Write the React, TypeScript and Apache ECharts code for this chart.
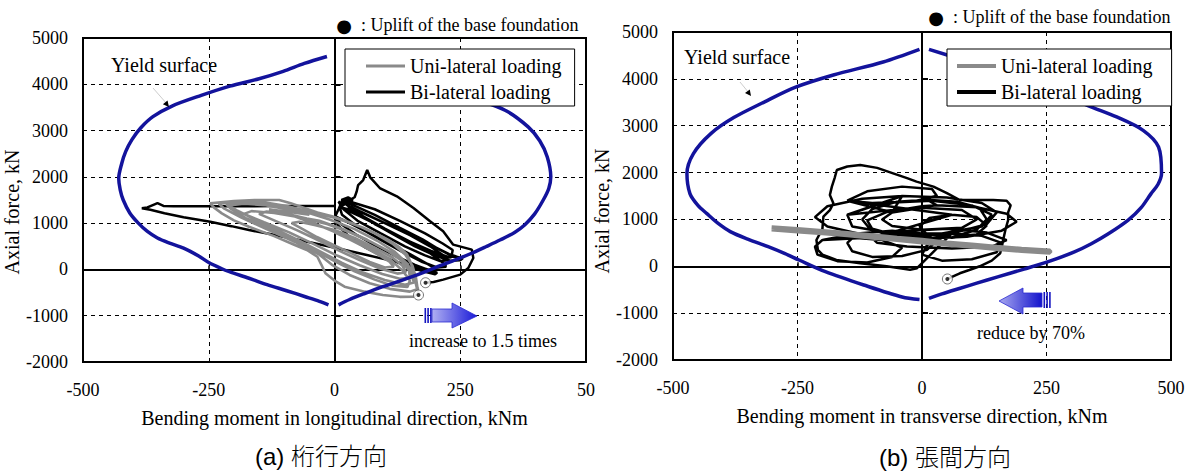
import React, { useEffect, useRef } from 'react';
import * as echarts from 'echarts';

const FONT = "'Liberation Serif', 'Times New Roman', serif";
const BLUE = '#13139c';
const GRAY = '#8a8a8a';

const X_NAME_LONG = 'Bending moment in longitudinal direction, kNm';
const X_NAME_TRANS = 'Bending moment in transverse direction, kNm';
const Y_NAME = 'Axial force, kN';
const LEGEND_NAMES = ['Uni-lateral loading', 'Bi-lateral loading'];
const CAPTIONS = ['(a) 桁行方向', '(b) 張間方向'];
const NOTE_TEXT = ': Uplift of the base foundation';
const ARROW_TEXTS = ['increase to 1.5 times', 'reduce by 70%'];

// ---- (a) longitudinal direction ----
const LONG_YIELD_NEG = [
  [-15, 4600], [-60, 4450], [-102, 4280], [-150, 4120], [-208, 3960], [-265, 3760], [-323, 3530],
  [-361, 3300], [-385, 3060], [-403, 2800], [-415, 2550], [-423, 2290], [-429, 1970], [-426, 1720],
  [-420, 1500], [-407, 1220], [-390, 1000], [-372, 820], [-352, 680], [-328, 570], [-300, 460],
  [-270, 290], [-250, 150], [-225, 20], [-209, -49], [-170, -190], [-134, -330], [-95, -460],
  [-58, -590], [-30, -690], [-12, -765],
];
const LONG_YIELD_POS = [
  [23, 4600], [80, 4430], [150, 4200], [210, 3990], [270, 3730], [339, 3440], [385, 3080],
  [408, 2780], [423, 2430], [430, 2000], [426, 1750], [415, 1500], [398, 1200], [378, 960],
  [358, 800], [330, 640], [301, 490], [275, 360], [248, 239], [210, 80], [172, -85], [135, -230],
  [96, -373], [60, -520], [30, -650], [8, -765],
];
const LONG_BI = [
  [0, 1372], [-50, 1370], [-120, 1368], [-190, 1367], [-260, 1366], [-320, 1364], [-340, 1372],
  [-352, 1432], [-360, 1396], [-372, 1340], [-383, 1322], [-366, 1290], [-338, 1212], [-300, 1128],
  [-247, 1030], [-205, 935], [-170, 851], [-128, 765], [-85, 668], [-40, 565], [10, 445], [60, 322],
  [110, 196], [150, 92], [182, 8], [204, -68], [200, -104], [176, -40],
  [140, 90], [100, 260], [62, 470], [28, 720], [6, 960], [4, 1138], [30, 1000], [70, 780], [110, 560],
  [150, 330], [180, 150], [197, 38], [200, -10], [188, -18], [160, 96], [120, 300], [80, 520],
  [42, 760], [12, 985], [2, 1160], [8, 1300], [14, 1452],
  [50, 1262], [100, 1002], [150, 742], [190, 500], [214, 322], [226, 198], [210, 180], [180, 302],
  [140, 500], [92, 778], [46, 1050], [18, 1298], [8, 1462], [20, 1405],
  [10, 1350], [50, 1150], [100, 880], [150, 600], [190, 350], [215, 150], [222, 60], [205, 40],
  [175, 160], [135, 380], [90, 650], [45, 930], [15, 1180], [10, 1350],
  [60, 1200], [110, 950], [160, 700], [200, 480], [228, 330], [242, 280], [226, 268], [192, 400],
  [150, 602], [100, 880], [56, 1150], [26, 1380], [14, 1500], [27, 1555], [37, 1498],
  [20, 1500], [35, 1400], [80, 1180], [130, 900], [175, 650], [210, 420], [232, 300], [255, 240],
  [250, 200], [230, 190], [200, 300], [160, 500], [110, 800], [65, 1080], [30, 1320], [20, 1500],
  [80, 1300], [130, 1050], [180, 780], [215, 560], [235, 420], [232, 255], [214, 262], [180, 420],
  [130, 700], [80, 980], [42, 1250], [22, 1450], [40, 1560], [44, 1680], [47, 1823], [57, 1931],
  [65, 2147], [71, 1990], [90, 1759], [124, 1579], [157, 1327], [190, 1039], [216, 823], [236, 535],
  [273, 427], [276, 247], [266, 31], [250, -113], [216, -221], [197, -272], [181, -287],
];
const LONG_UNI = [
  [0, 800], [30, 650], [60, 480], [90, 300], [110, 160], [118, 60], [100, 40], [70, 160], [35, 340],
  [0, 520], [-35, 700], [-65, 880], [-85, 1000], [-70, 1030], [-40, 960],
  [0, 850], [40, 680], [80, 470], [115, 260], [135, 80], [142, -60], [125, -90], [90, 20], [50, 200],
  [10, 400], [-30, 620], [-75, 850], [-120, 1060], [-150, 1200], [-135, 1250], [-95, 1200], [-55, 1100],
  [-30, 1050], [20, 860], [65, 640], [105, 410], [132, 200], [148, -20], [150, -180], [130, -200],
  [95, -100], [50, 90], [5, 300], [-40, 540], [-90, 800], [-140, 1020], [-180, 1200], [-165, 1260],
  [-120, 1220], [-70, 1130],
  [-15, 980], [30, 800], [75, 580], [115, 350], [140, 150], [152, -100], [158, -280], [140, -330],
  [100, -230], [55, -60], [15, 140], [-25, 370], [-70, 620], [-115, 860], [-160, 1090], [-195, 1280],
  [-210, 1380], [-180, 1420], [-140, 1390], [-95, 1300], [-50, 1180],
  [-130, 1300], [-80, 1150], [-30, 950], [20, 720], [70, 470], [110, 220], [135, -20], [150, -240],
  [145, -380], [115, -350], [80, -220], [40, -40], [0, 180], [-40, 420], [-85, 660], [-130, 880],
  [-175, 1100], [-205, 1300], [-215, 1400], [-185, 1440], [-150, 1420],
  [-60, 1250], [-10, 1080], [40, 870], [85, 620], [120, 380], [145, 120], [158, -150], [166, -420],
  [150, -480], [110, -420], [70, -300], [30, -120], [-5, 100], [-30, 320], [-60, 500], [-100, 700],
  [-145, 920], [-185, 1120], [-220, 1320], [-230, 1420], [-190, 1460], [-140, 1450], [-95, 1370],
  [-2, 1120], [30, 1010], [57, 900], [85, 760], [110, 620], [130, 470], [144, 330], [152, 140],
  [157, -90], [163, -370], [167, -516], [157, -589], [130, -592], [96, -553], [60, -480], [20, -373],
  [0, -240], [-18, -84], [-26, 100], [-34, 274], [-55, 420], [-79, 527], [-120, 720], [-170, 922],
  [-200, 1060], [-224, 1212], [-240, 1340], [-247, 1428], [-200, 1480], [-159, 1500], [-110, 1500],
  [-87, 1430], [-60, 1330], [-34, 1230], [-5, 1150], [40, 980], [80, 780], [115, 560], [140, 330],
  [155, 80], [162, -180], [165, -400], [167, -553],
];
const LONG_UPLIFT = [[181, -287], [167, -553]];

// ---- (b) transverse direction ----
const TRANS_YIELD_NEG = [
  [-5, 4630], [-78, 4360], [-178, 4082], [-255, 3818], [-316, 3510], [-378, 3173], [-424, 2832],
  [-459, 2405], [-472, 1978], [-466, 1551], [-450, 1300], [-432, 1124], [-410, 920], [-385, 740],
  [-350, 580], [-309, 419], [-275, 270], [-247, 134], [-194, -115], [-117, -399], [-40, -655], [-5, -710],
];
const TRANS_YIELD_POS = [
  [14, 4630], [90, 4380], [180, 4080], [270, 3720], [337, 3415], [391, 3187], [444, 2902],
  [475, 2546], [481, 1978], [474, 1750], [460, 1551], [440, 1250], [414, 985], [375, 698],
  [340, 480], [306, 306], [252, 93], [205, -60], [152, -226], [110, -360], [75, -474], [40, -590], [14, -687],
];
const TRANS_UNI = [
  [-302, 830], [-250, 790], [-200, 750], [-150, 705], [-100, 655], [-50, 605], [0, 560], [50, 505],
  [100, 458], [150, 410], [200, 368], [257, 330], [257, 295], [200, 330], [150, 375], [100, 420],
  [50, 465], [0, 515], [-50, 565], [-100, 615], [-150, 665], [-200, 710], [-250, 750], [-302, 790],
];
const TRANS_BI = [
  [10, 1420], [70, 1380], [115, 1250], [130, 1000], [110, 780], [60, 620], [0, 580], [-60, 640],
  [-105, 800], [-120, 1000], [-100, 1220], [-50, 1380], [10, 1420],
  [30, 1300], [110, 1260], [170, 1120], [190, 950], [160, 760], [90, 630], [20, 600], [-50, 660],
  [-100, 800], [-110, 980], [-70, 1160], [0, 1280], [30, 1300],
  [-150, 1100], [-80, 1350], [20, 1400], [100, 1300], [140, 1100], [120, 850], [40, 700], [-60, 700],
  [-140, 850], [-150, 1100],
  [-40, 1500], [50, 1470], [120, 1350], [150, 1150], [130, 900], [60, 700], [-30, 620], [-120, 680],
  [-190, 850], [-215, 1050], [-190, 1280], [-120, 1440], [-40, 1500],
  [-60, 1150], [0, 1250], [80, 1200], [110, 1000], [80, 820], [0, 780], [-60, 860], [-80, 1000], [-60, 1150],
  [-150, 1400], [-110, 1600], [-40, 1700], [20, 1650], [30, 1500], [-20, 1380], [-100, 1350], [-150, 1400],
  [60, 1100], [110, 1050], [130, 870], [110, 680], [60, 610], [10, 680], [-5, 850], [15, 1030], [60, 1100],
  [-100, 600], [-40, 750], [50, 800], [130, 720], [170, 560], [140, 420], [60, 380], [-30, 420],
  [-90, 500], [-100, 600],
  [-130, 700], [-60, 760], [0, 700], [30, 550], [10, 350], [-40, 220], [-100, 200], [-140, 320],
  [-150, 500], [-130, 700],
  [-200, 560], [-150, 620], [-80, 560], [-40, 400], [-60, 200], [-110, 80], [-170, 110], [-210, 250],
  [-215, 420], [-200, 560],
  [60, 700], [120, 650], [160, 500], [150, 300], [100, 150], [40, 120], [0, 250], [10, 450], [60, 700],
  [-10, -40], [-24, -72], [-71, 0], [-124, 64], [-172, 134], [-200, 250], [-209, 348], [-212, 561],
  [-200, 800], [-198, 1059], [-185, 1200], [-178, 1344], [-185, 1520], [-181, 1700], [-175, 1900],
  [-171, 2055], [-150, 2130], [-124, 2161], [-90, 2100], [-58, 1984], [-30, 1880], [-11, 1806],
  [23, 1700], [50, 1560], [76, 1415], [110, 1415], [143, 1415], [170, 1400], [178, 1300], [173, 1150],
  [173, 988], [168, 800], [163, 561], [160, 400], [157, 277], [140, 120], [116, 0], [95, -80],
  [76, -149], [51, -271],
];
const TRANS_UPLIFT = [[51, -271]];

const X_MIN = -500, X_MAX = 500, X_STEP = 250;
const Y_MIN = -2000, Y_MAX = 5000, Y_STEP = 1000;

function axesFor(g: number, xName: string, cutLast: boolean, yPad: number) {
  const x = [
    {
      gridIndex: g, type: 'value', min: X_MIN, max: X_MAX, interval: X_STEP, position: 'bottom',
      axisLine: { show: false, onZero: false }, axisTick: { show: false },
      axisLabel: {
        fontSize: 18, color: '#000', fontFamily: FONT, margin: 19,
        formatter: (v: number) => (cutLast && v === X_MAX ? String(v).slice(0, 2) : String(v)),
      },
      splitLine: { show: true, lineStyle: { color: '#000', width: 1, type: [4, 4] } },
      name: xName, nameLocation: 'middle', nameGap: 46,
      nameTextStyle: { fontSize: 20, fontFamily: FONT, color: '#000' },
    },
    {
      gridIndex: g, type: 'value', min: X_MIN, max: X_MAX, interval: X_STEP, position: 'bottom',
      axisLine: { show: true, onZero: true, lineStyle: { color: '#000', width: 2 } },
      axisTick: { show: true, inside: true, length: 4, lineStyle: { color: '#000', width: 1.5 } },
      axisLabel: { show: false }, splitLine: { show: false },
    },
  ];
  const y = [
    {
      gridIndex: g, type: 'value', min: Y_MIN, max: Y_MAX, interval: Y_STEP, position: 'left',
      axisLine: { show: false, onZero: false }, axisTick: { show: false },
      axisLabel: { fontSize: 18, color: '#000', fontFamily: FONT, margin: 15, formatter: (v: number) => String(v) },
      splitLine: { show: true, lineStyle: { color: '#000', width: 1, type: [4, 4] } },
      name: Y_NAME, nameLocation: 'middle', nameGap: 51, nameRotate: 90,
      nameTextStyle: { fontSize: 20, fontFamily: FONT, color: '#000', padding: [0, yPad, 0, 0] },
    },
    {
      gridIndex: g, type: 'value', min: Y_MIN, max: Y_MAX, interval: Y_STEP, position: 'left',
      axisLine: { show: true, onZero: true, lineStyle: { color: '#000', width: 2 } },
      axisTick: { show: true, inside: true, length: 6, lineStyle: { color: '#000', width: 2 } },
      axisLabel: { show: false }, splitLine: { show: false },
    },
  ];
  return { x, y };
}

function seriesFor(xi: number, yi: number, bi: number[][], uni: number[][], yn: number[][], yp: number[][], up: number[][], uniWidth: number) {
  const base = { xAxisIndex: xi, yAxisIndex: yi, symbol: 'none', showSymbol: false, silent: true };
  return [
    { ...base, type: 'line', name: LEGEND_NAMES[1], data: bi, z: 2, lineStyle: { color: '#000', width: 2.5 }, itemStyle: { color: '#000' } },
    { ...base, type: 'line', name: LEGEND_NAMES[0], data: uni, z: 2, lineStyle: { color: GRAY, width: uniWidth }, itemStyle: { color: GRAY } },
    { ...base, type: 'line', name: 'Yield surface', data: yn, z: 3, smooth: 0.3, lineStyle: { color: BLUE, width: 3.5 } },
    { ...base, type: 'line', name: 'Yield surface', data: yp, z: 3, smooth: 0.3, lineStyle: { color: BLUE, width: 3.5 } },
    { xAxisIndex: xi, yAxisIndex: yi, type: 'scatter', name: 'Uplift', data: up, z: 3, silent: true, symbol: 'circle', symbolSize: 10, itemStyle: { color: '#fff', borderColor: '#555', borderWidth: 1 } },
    { xAxisIndex: xi, yAxisIndex: yi, type: 'scatter', name: 'Uplift', data: up, z: 3, silent: true, symbol: 'circle', symbolSize: 4, itemStyle: { color: '#000' } },
  ];
}

function legendFor(left: number, padding: number[], uniH: number) {
  return {
    show: true, orient: 'vertical', left, top: 49, z: 10,
    data: [
      { name: LEGEND_NAMES[0], icon: 'rect', itemStyle: { color: GRAY } },
      { name: LEGEND_NAMES[1], icon: 'rect', itemStyle: { color: '#000' } },
    ],
    backgroundColor: '#fff', borderColor: '#000', borderWidth: 1, borderRadius: 0,
    padding, itemGap: 6, itemWidth: 39, itemHeight: uniH, selectedMode: false,
    textStyle: { fontSize: 20, fontFamily: FONT, color: '#000' },
  };
}

function txt(x: number, y: number, text: string, size: number, align: string, family = FONT, extra: any = {}) {
  return {
    type: 'text', x, y, z: 20,
    style: {
      text, fontSize: size, fontFamily: family, fill: '#000',
      align, verticalAlign: 'middle', textAlign: align, textVerticalAlign: 'middle', ...extra,
    },
  };
}

function arrowRight() {
  const grad = new echarts.graphic.LinearGradient(0, 0, 1, 0, [
    { offset: 0, color: '#b0b0f2' }, { offset: 1, color: '#1a1ad8' },
  ]);
  return [
    { type: 'polygon', z: 20, shape: { points: [[432, 309], [452, 309], [452, 303], [477, 316], [452, 328], [452, 322], [432, 322]] }, style: { fill: grad, stroke: '#2c2cd0', lineWidth: 0.8 } },
    { type: 'rect', z: 20, shape: { x: 424.5, y: 308, width: 1.6, height: 15 }, style: { fill: '#1414c0' } },
    { type: 'rect', z: 20, shape: { x: 427.3, y: 308, width: 1.6, height: 15 }, style: { fill: '#1414c0' } },
    { type: 'rect', z: 20, shape: { x: 430.1, y: 308, width: 1.6, height: 15 }, style: { fill: '#1414c0' } },
  ];
}

function arrowLeft() {
  const grad = new echarts.graphic.LinearGradient(0, 0, 1, 0, [
    { offset: 0, color: '#a8a8f0' }, { offset: 1, color: '#1212cc' },
  ]);
  return [
    { type: 'polygon', z: 20, shape: { points: [[1042, 293], [1023, 293], [1023, 288], [999, 301], [1023, 314], [1023, 307], [1042, 307]] }, style: { fill: grad, stroke: '#2c2cd0', lineWidth: 0.8 } },
    { type: 'rect', z: 20, shape: { x: 1043.5, y: 292, width: 1.6, height: 16 }, style: { fill: '#1414c0' } },
    { type: 'rect', z: 20, shape: { x: 1046.3, y: 292, width: 1.6, height: 16 }, style: { fill: '#1414c0' } },
    { type: 'rect', z: 20, shape: { x: 1049.1, y: 292, width: 1.6, height: 16 }, style: { fill: '#1414c0' } },
  ];
}

function pointer(x1: number, y1: number, tip: number[], b1: number[], b2: number[]) {
  return [
    { type: 'line', z: 20, shape: { x1, y1, x2: tip[0] - 2, y2: tip[1] - 3 }, style: { stroke: '#aaa', lineWidth: 0.6 } },
    { type: 'polygon', z: 20, shape: { points: [tip, b1, b2] }, style: { fill: '#000' } },
  ];
}

function buildOption() {
  const a = axesFor(0, X_NAME_LONG, true, 24);
  const b = axesFor(1, X_NAME_TRANS, false, 30);
  const capFont = "'Liberation Sans', 'Noto Sans CJK JP', sans-serif";
  return {
    animation: false,
    backgroundColor: '#fff',
    textStyle: { fontFamily: FONT },
    grid: [
      { left: 83, top: 38, width: 503, height: 324, show: true, borderColor: '#000', borderWidth: 2, backgroundColor: 'transparent' },
      { left: 673, top: 32, width: 498, height: 328, show: true, borderColor: '#000', borderWidth: 2, backgroundColor: 'transparent' },
    ],
    xAxis: [...a.x, ...b.x],
    yAxis: [...a.y, ...b.y],
    legend: [legendFor(345, [7, 13, 4, 21], 3), legendFor(947, [7, 19, 4, 10], 4)],
    series: [
      ...seriesFor(0, 0, LONG_BI, LONG_UNI, LONG_YIELD_NEG, LONG_YIELD_POS, LONG_UPLIFT, 2.6),
      ...seriesFor(2, 2, TRANS_BI, TRANS_UNI, TRANS_YIELD_NEG, TRANS_YIELD_POS, TRANS_UPLIFT, 4.5),
    ],
    graphic: [
      txt(344, 25, '●', 18, 'center', "'DejaVu Sans', sans-serif"),
      txt(361, 25, NOTE_TEXT, 18, 'left'),
      txt(936, 17, '●', 18, 'center', "'DejaVu Sans', sans-serif"),
      txt(953, 17, NOTE_TEXT, 18, 'left'),
      txt(111, 65, 'Yield surface', 20, 'left'),
      txt(684, 57, 'Yield surface', 20, 'left'),
      ...pointer(153, 88, [169, 107], [162.9, 104.3], [167.5, 100.5]),
      ...pointer(740, 82, [751, 96], [745, 93], [749.8, 89.4]),
      ...arrowRight(),
      ...arrowLeft(),
      txt(483, 341, ARROW_TEXTS[0], 18, 'center'),
      txt(1031, 333, ARROW_TEXTS[1], 18, 'center'),
      txt(321, 456, CAPTIONS[0], 24, 'center', capFont, { fontWeight: 300 }),
      txt(945, 457, CAPTIONS[1], 24, 'center', capFont, { fontWeight: 300 }),
    ],
  };
}

export default function App() {
  const ref = useRef<HTMLDivElement>(null);
  useEffect(() => {
    if (!ref.current) return;
    const chart = echarts.init(ref.current, null, { renderer: 'svg' });
    chart.setOption(buildOption() as any);
    return () => chart.dispose();
  }, []);
  return (
    <div
      ref={ref}
      style={{ position: 'fixed', left: 0, top: 0, width: 1192, height: 472, background: '#fff' }}
    />
  );
}
